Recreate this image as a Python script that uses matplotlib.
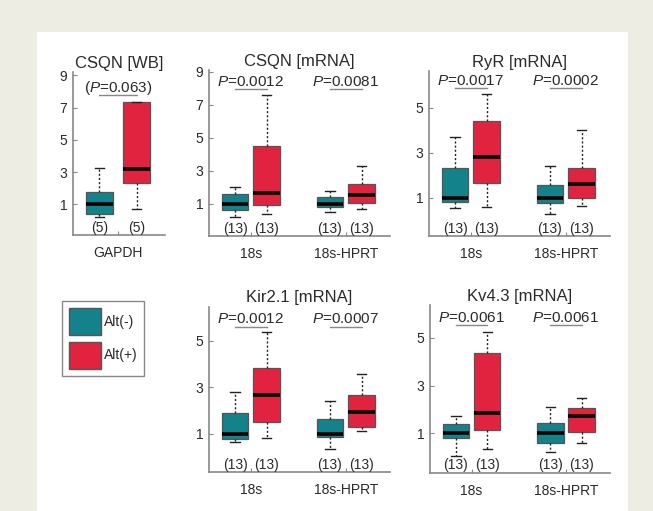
import matplotlib
matplotlib.use("Agg")
import matplotlib.pyplot as plt
from matplotlib.patches import Patch, Rectangle

plt.rcParams['font.family'] = ['Liberation Sans', 'DejaVu Sans']
plt.rcParams['mathtext.fontset'] = 'custom'
plt.rcParams['mathtext.it'] = 'Liberation Sans:italic'
plt.rcParams['mathtext.rm'] = 'Liberation Sans'
plt.rcParams['text.color'] = '#2a2a2a'

# box stats per series: [whisker low, q1, median, q3, whisker high]
csqn_wb_neg = [[0.23, 0.40, 1.00, 1.78, 3.27]]
csqn_wb_pos = [[0.71, 2.32, 3.17, 7.37, 7.37]]
csqn_mrna_neg = [[0.19, 0.64, 1.00, 1.61, 2.03], [0.53, 0.78, 1.00, 1.40, 1.75]]
csqn_mrna_pos = [[0.39, 0.90, 1.65, 4.47, 7.60], [0.70, 1.02, 1.55, 2.19, 3.26]]
ryr_neg = [[0.55, 0.82, 1.00, 2.32, 3.68], [0.27, 0.78, 1.00, 1.54, 2.43]]
ryr_pos = [[0.57, 1.67, 2.81, 4.43, 5.60], [0.64, 1.00, 1.60, 2.30, 4.00]]
kir_neg = [[0.64, 0.78, 1.00, 1.89, 2.78], [0.34, 0.86, 1.00, 1.63, 2.42]]
kir_pos = [[0.84, 1.53, 2.68, 3.83, 5.37], [1.14, 1.31, 1.92, 2.68, 3.57]]
kv_neg = [[0.06, 0.79, 1.00, 1.39, 1.72], [0.20, 0.58, 1.00, 1.44, 2.09]]
kv_pos = [[0.33, 1.14, 1.86, 4.35, 5.25], [0.58, 1.07, 1.72, 2.05, 2.46]]

wb_labels = ['GAPDH']
mrna_labels = ['18s', '18s-HPRT']
csqn_wb_p = ['(P=0.063)']
csqn_mrna_p = ['0.0012', '0.0081']
ryr_p = ['0.0017', '0.0002']
kir_p = ['0.0012', '0.0007']
kv_p = ['0.0061', '0.0061']
n_wb = 5
n_mrna = 13

TEAL = '#14828a'
RED = '#e2233f'
W, H = 653, 511

fig = plt.figure(figsize=(W / 100, H / 100), dpi=100)
fig.patch.set_facecolor('#edede3')
fig.patches.append(Rectangle((37 / W, 0), (628 - 37) / W, 1 - 32 / H,
                             transform=fig.transFigure, facecolor='white',
                             edgecolor='none', zorder=-10))


def px_axes(x0, y0, x1, y1):
    return fig.add_axes([x0 / W, 1 - y1 / H, (x1 - x0) / W, (y1 - y0) / H])


def stats(row):
    lo, q1, med, q3, hi = row
    return dict(whislo=lo, q1=q1, med=med, q3=q3, whishi=hi, fliers=[])


def draw_panel(ax, neg, pos, labels, pvals, n, title, yticks, ylim, off, xlim,
               ptext_y=0.93, line_y=0.885):
    centers = list(range(1, len(labels) + 1))
    for rows, color, sign in [(neg, TEAL, -1), (pos, RED, 1)]:
        ax.bxp([stats(r) for r in rows],
               positions=[c + sign * off for c in centers],
               widths=0.28, patch_artist=True, showfliers=False,
               boxprops=dict(facecolor=color, edgecolor='#555555', lw=0.9),
               medianprops=dict(color='black', lw=2.6),
               whiskerprops=dict(color='#222222', lw=1.0, ls=(0, (1.5, 1.5))),
               capprops=dict(color='#222222', lw=1.0),
               capwidths=0.1)
    for c, p in zip(centers, pvals):
        txt = p.replace('P=', '$P$=') if p.startswith('(') else '$P$=' + p
        ax.text(c, ptext_y, txt, transform=ax.get_xaxis_transform(),
                ha='center', va='center', fontsize=11)
        ax.plot([c - off, c + off], [line_y, line_y], color='#888888', lw=1.0,
                transform=ax.get_xaxis_transform(), clip_on=False)
        for s in (-1, 1):
            ax.text(c + s * off, 0.045, f'({n})', transform=ax.get_xaxis_transform(),
                    ha='center', va='center', fontsize=10)
    ax.set_title(title, fontsize=12, pad=3, color='#2a2a2a')
    ax.set_xlim(*xlim)
    ax.set_ylim(*ylim)
    ax.set_yticks(yticks)
    ax.set_xticks(centers)
    ax.set_xticklabels(labels, fontsize=10)
    ax.tick_params(direction='in', length=3, color='#888888', labelcolor='#2a2a2a',
                   labelsize=10)
    ax.tick_params(axis='y', pad=4)
    ax.tick_params(axis='x', pad=8)
    for s in ('top', 'right'):
        ax.spines[s].set_visible(False)
    for s in ('left', 'bottom'):
        ax.spines[s].set_color('#888888')
        ax.spines[s].set_linewidth(1.2)
    ax.set_facecolor('none')


ax1 = px_axes(73, 72, 165, 235)
draw_panel(ax1, csqn_wb_neg, csqn_wb_pos, wb_labels, csqn_wb_p, n_wb, 'CSQN [WB]',
           [1, 3, 5, 7, 9], (-0.9, 9.2), 0.195, (0.526, 1.495), 0.90, 0.86)

ax2 = px_axes(209, 70, 390, 236)
draw_panel(ax2, csqn_mrna_neg, csqn_mrna_pos, mrna_labels, csqn_mrna_p, n_mrna,
           'CSQN [mRNA]', [1, 3, 5, 7, 9], (-0.95, 9.1), 0.166, (0.56, 2.466))

ax3 = px_axes(429, 71, 610, 236)
draw_panel(ax3, ryr_neg, ryr_pos, mrna_labels, ryr_p, n_mrna, 'RyR [mRNA]',
           [1, 3, 5], (-0.71, 6.64), 0.166, (0.56, 2.466), 0.94, 0.895)

ax4 = px_axes(209, 306.5, 390, 472.3)
draw_panel(ax4, kir_neg, kir_pos, mrna_labels, kir_p, n_mrna, 'Kir2.1 [mRNA]',
           [1, 3, 5], (-0.65, 6.47), 0.166, (0.56, 2.466), 0.924, 0.879)

ax5 = px_axes(430, 305, 610, 472.7)
draw_panel(ax5, kv_neg, kv_pos, mrna_labels, kv_p, n_mrna, 'Kv4.3 [mRNA]',
           [1, 3, 5], (-0.65, 6.37), 0.166, (0.56, 2.466), 0.924, 0.879)

handles = [Patch(facecolor=TEAL, edgecolor='#555555', label='Alt(-)'),
           Patch(facecolor=RED, edgecolor='#555555', label='Alt(+)')]
leg = fig.legend(handles=handles, loc='upper left', bbox_to_anchor=(62 / W, 1 - 301 / H),
                 fontsize=10, handlelength=2.3, handleheight=2.6, handletextpad=0.2,
                 labelspacing=0.5, borderpad=0.5, borderaxespad=0, fancybox=False,
                 edgecolor='#888888', framealpha=1)
leg.get_frame().set_linewidth(1.0)

fig.savefig('out.png', dpi=100, facecolor=fig.get_facecolor())
